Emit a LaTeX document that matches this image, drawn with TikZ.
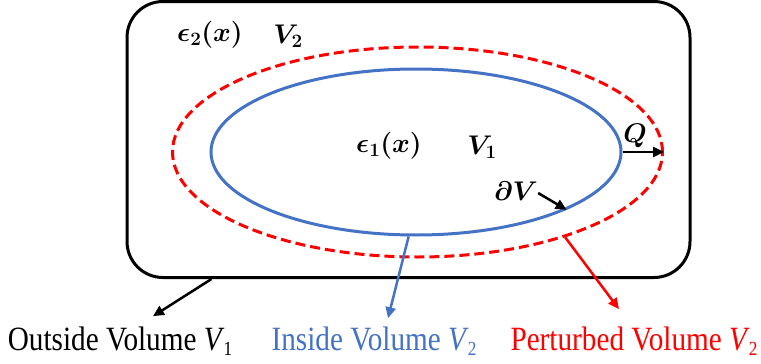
\RequirePackage{fix-cm}
\documentclass[tikz,border=0pt]{standalone}
\usepackage{amsmath}
\usepackage{fontspec}
\usetikzlibrary{arrows.meta,shapes.geometric}

\definecolor{cSurf}{HTML}{4472C4}
\definecolor{cPert}{HTML}{FF0000}
\newfontfamily\capfont{Liberation Serif}[FakeStretch=0.86]
\newcommand{\volsub}[2]{\textit{#1}\kern-1pt\raisebox{-5pt}{\fontsize{20}{20}\selectfont #2}}

\tikzset{
  frame/.style = {rectangle, rounded corners=36pt, draw=black, line width=3pt,
                  minimum width=563pt, minimum height=276pt, inner sep=0pt},
  surf/.style  = {ellipse, draw=cSurf, line width=3pt,
                  minimum width=410pt, minimum height=166pt, inner sep=0pt},
  pert/.style  = {ellipse, draw=cPert, line width=3pt, dash pattern=on 10pt off 5pt,
                  minimum width=490pt, minimum height=210pt, inner sep=0pt},
  fl/.style    = {-{Triangle[length=11pt,width=10pt]}, line width=2.5pt},
  mlab/.style  = {inner sep=0pt, font=\fontsize{27}{30}\selectfont},
  lab/.style   = {inner sep=0pt, anchor=base, font=\capfont\fontsize{34}{38}\selectfont},
}

\begin{document}
\begin{tikzpicture}[x=1pt, y=-1pt]
  \useasboundingbox (0,0) rectangle (761,364);

  % volumes
  \node[frame] (box) at (408.5,139.5) {};
  \node[pert] (pert) at (417.5,152) {};
  \node[surf] (surf) at (416,152) {};

  % permittivities and volumes
  \node[mlab] (eps2) at (210,35) {$\boldsymbol{\epsilon_2(x)}$};
  \node[mlab] (vol2) at (288,36) {$\boldsymbol{V_2}$};
  \node[mlab] (eps1) at (389,146) {$\boldsymbol{\epsilon_1(x)}$};
  \node[mlab] (vol1) at (482,147) {$\boldsymbol{V_1}$};
  \node[mlab] (qlab) at (635,136) {$\boldsymbol{Q}$};
  \node[mlab] (dvlab) at (516,191) {$\boldsymbol{\partial V}$};

  % captions
  \node[lab] (outLbl) at (120,350) {Outside Volume \volsub{V}{1}};
  \node[lab, text=cSurf] (inLbl) at (374,350) {Inside Volume \volsub{V}{2}};
  \node[lab, text=cPert] (pertLbl) at (634,350) {Perturbed Volume \volsub{V}{2}};

  \draw[fl] (surf.east) -- (pert.east);
  \draw[fl] ([yshift=-2pt]dvlab.east) -- (surf.-21);
  \draw[fl] ([xshift=86pt]box.south west) -- ([xshift=33pt, yshift=10pt]outLbl.north);
  \draw[fl, cSurf] (surf.-95) -- ([xshift=14pt, yshift=8pt]inLbl.north);
  \draw[fl, cPert] (pert.-30) -- ([xshift=-15pt, yshift=17pt]pertLbl.north);
\end{tikzpicture}
\end{document}
